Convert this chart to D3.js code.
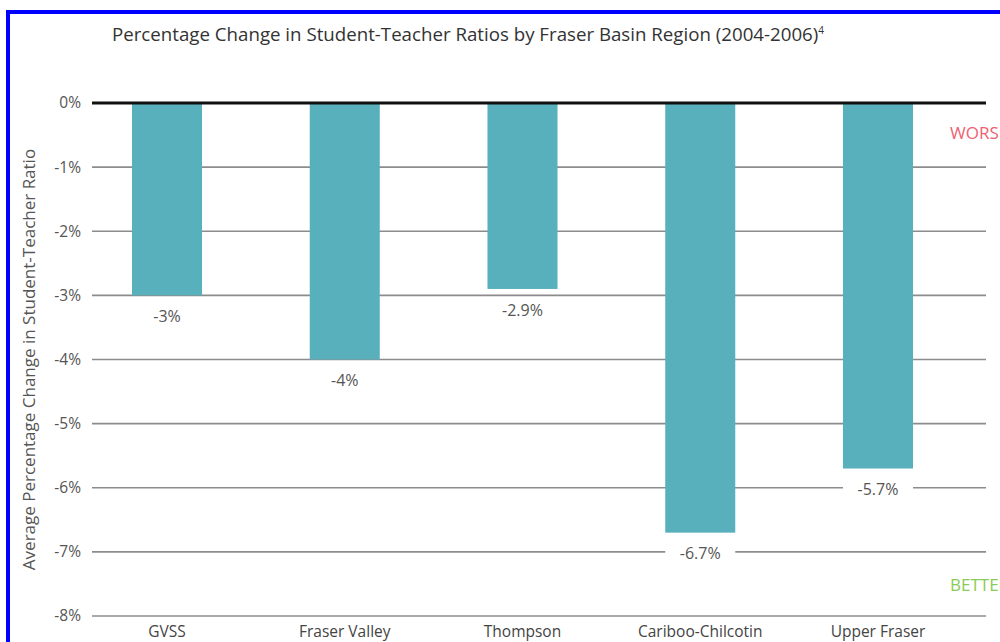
<!DOCTYPE html>
<html>
<head>
<meta charset="utf-8">
<script src="https://cdn.jsdelivr.net/npm/d3@7"></script>
<style>
  body { margin: 0; background: #fff; }
  text { font-family: "Open Sans", sans-serif; }
</style>
</head>
<body>
<div id="chart"></div>
<script>
// data
const regions = ["GVSS", "Fraser Valley", "Thompson", "Cariboo-Chilcotin", "Upper Fraser"];
const changes = [-3, -4, -2.9, -6.7, -5.7];
const changeLabels = ["-3%", "-4%", "-2.9%", "-6.7%", "-5.7%"];
const yTicks = [0, -1, -2, -3, -4, -5, -6, -7, -8];
const chartTitle = "Percentage Change in Student-Teacher Ratios by Fraser Basin Region (2004-2006)";
const yTitle = "Average Percentage Change in Student-Teacher Ratio";

const width = 1000, height = 642;
const plotLeft = 92, plotRight = 986;

let svg = d3.select("#chart")
    .append("svg")
    .attr("width", width)
    .attr("height", height);

let y = d3.scaleLinear()
    .domain([0, -8])
    .range([103, 616]);

// bars sit a bit inside the grid
let x = d3.scaleBand()
    .domain(regions)
    .range([plotLeft, 953])
    .paddingInner(0.606)
    .paddingOuter(0.225);

let data = regions.map((r, i) => ({ region: r, value: changes[i], label: changeLabels[i] }));

// blue frame
svg.append("rect")
    .attr("x", 8)
    .attr("y", 12)
    .attr("width", width + 20)
    .attr("height", height + 20)
    .attr("fill", "none")
    .attr("stroke", "#0000ff")
    .attr("stroke-width", 4);

svg.append("text")
    .attr("x", 468)
    .attr("y", 41)
    .attr("text-anchor", "middle")
    .style("font-size", "18.7px")
    .attr("fill", "#333")
    .text(chartTitle)
    .append("tspan")
    .attr("dy", -7)
    .style("font-size", "10px")
    .text("4");

// grid lines
svg.append("g")
    .selectAll("line")
    .data(yTicks.filter(d => d !== 0))
    .enter()
    .append("line")
    .attr("x1", plotLeft)
    .attr("x2", plotRight)
    .attr("y1", d => y(d))
    .attr("y2", d => y(d))
    .attr("stroke", "#8c8c8c")
    .attr("stroke-width", 1.6);

// tick labels
svg.append("g")
    .selectAll("text")
    .data(yTicks)
    .enter()
    .append("text")
    .attr("x", 81)
    .attr("y", d => y(d))
    .attr("dy", "0.35em")
    .attr("text-anchor", "end")
    .style("font-size", "15.5px")
    .attr("fill", "#555")
    .text(d => d + "%");

svg.append("text")
    .attr("transform", `translate(35, ${(y(0) + y(-8)) / 2}) rotate(-90)`)
    .attr("text-anchor", "middle")
    .style("font-size", "17px")
    .attr("fill", "#555")
    .text(yTitle);

svg.append("g")
    .selectAll("rect")
    .data(data)
    .enter()
    .append("rect")
    .attr("x", d => x(d.region))
    .attr("y", y(0))
    .attr("width", x.bandwidth())
    .attr("height", d => y(d.value) - y(0))
    .attr("fill", "#58b0bd");

// value labels with white box that cuts the grid line
let labels = svg.append("g")
    .selectAll("g")
    .data(data)
    .enter()
    .append("g")
    .attr("transform", d => `translate(${x(d.region) + x.bandwidth() / 2}, ${y(d.value) + 21})`);

labels.append("rect")
    .attr("x", -x.bandwidth() / 2)
    .attr("y", -10)
    .attr("width", x.bandwidth())
    .attr("height", 20)
    .attr("fill", "#fff");

labels.append("text")
    .attr("text-anchor", "middle")
    .attr("dy", "0.35em")
    .style("font-size", "16px")
    .attr("fill", "#555")
    .text(d => d.label);

// zero line
svg.append("line")
    .attr("x1", plotLeft)
    .attr("x2", plotRight)
    .attr("y1", y(0))
    .attr("y2", y(0))
    .attr("stroke", "#111")
    .attr("stroke-width", 3);

// category labels
svg.append("g")
    .selectAll("text")
    .data(regions)
    .enter()
    .append("text")
    .attr("x", d => x(d) + x.bandwidth() / 2)
    .attr("y", 637)
    .attr("text-anchor", "middle")
    .style("font-size", "15.5px")
    .attr("fill", "#444")
    .text(d => d);

svg.append("text")
    .attr("x", 950)
    .attr("y", 139)
    .style("font-size", "17px")
    .attr("fill", "#f06070")
    .text("WORSE");

svg.append("text")
    .attr("x", 950)
    .attr("y", 591)
    .style("font-size", "17px")
    .attr("fill", "#88cc55")
    .text("BETTER");
</script>
</body>
</html>
